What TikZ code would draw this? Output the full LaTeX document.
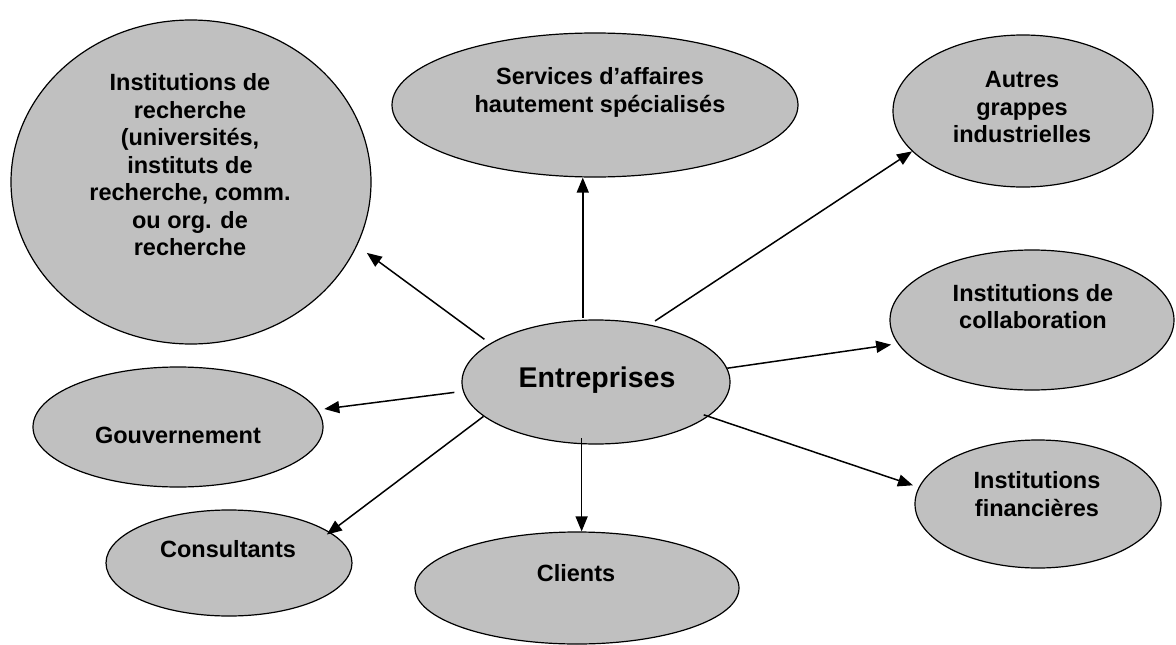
\documentclass[tikz,border=0pt]{standalone}
\usepackage{fontspec}
\setmainfont{Liberation Sans}
\usetikzlibrary{shapes.geometric,arrows.meta}
\definecolor{bubble}{RGB}{192,192,192}
\begin{document}
\begin{tikzpicture}[x=1pt,y=-1pt,
  bub/.style={ellipse, draw=black, line width=1.2pt, fill=bubble, inner sep=0pt},
  lbl/.style={align=center, font=\fontsize{23.5}{27.5}\selectfont\bfseries, inner sep=0pt},
  conn/.style={line width=1.5pt, -{Triangle[length=15pt,width=12pt]}}]
\useasboundingbox[fill=white] (0,0) rectangle (1176,645);
% bubbles
\node[bub, minimum width=360pt, minimum height=324pt] (res) at (191,182) {};
\node[bub, minimum width=406pt, minimum height=144pt] (svc) at (595,105) {};
\node[bub, minimum width=260pt, minimum height=152pt] (aut) at (1023,111) {};
\node[bub, minimum width=284pt, minimum height=140pt] (col) at (1032,320) {};
\node[bub, minimum width=268pt, minimum height=124pt] (ent) at (596,382) {};
\node[bub, minimum width=290pt, minimum height=120pt] (gov) at (178,427) {};
\node[bub, minimum width=246pt, minimum height=128pt] (fin) at (1038,504) {};
\node[bub, minimum width=246pt, minimum height=106pt] (con) at (229,563) {};
\node[bub, minimum width=324pt, minimum height=112pt] (cli) at (577,588) {};
% labels
\node[lbl] (resT) at (190,165) {Institutions de\\recherche\\(universités,\\instituts de\\recherche, comm.\\ou org. de\\recherche};
\node[lbl] (svcT) at (600,92.5) {Services d’affaires\\hautement spécialisés};
\node[lbl] (autT) at (1022,107.5) {Autres\\grappes\\industrielles};
\node[lbl] (colT) at (1033,306.5) {Institutions de\\collaboration};
\node[lbl, font=\fontsize{28.5}{33}\selectfont\bfseries] (entT) at (597,380) {Entreprises};
\node[lbl] (govT) at (178,435) {Gouvernement};
\node[lbl] (finT) at (1037,494) {Institutions\\financières};
\node[lbl] (conT) at (228,549) {Consultants};
\node[lbl] (cliT) at (576,573) {Clients};
% connectors
\draw[conn, shorten <=7pt, shorten >=12pt] (ent.160.5) -- (res.-21);
\draw[conn, shorten <=2pt] (ent.102.3) -- (ent.102.3 |- svc.south);
\draw[conn, shorten <=6.6pt] (ent.47.4) -- (aut.200.9);
\draw[conn, shorten >=6.6pt] (ent.6.5) -- (col.190.1);
\draw[conn, shorten <=-5pt, shorten >=6pt] (ent.-17.3) -- (fin.172.3);
\draw[conn, shorten <=-6pt] (ent.257) -- (ent.257 |- cli.north);
\draw[conn, shorten >=-4pt] (ent.197.3) -- (con.17.9);
\draw[conn, shorten <=8.6pt, shorten >=6.7pt] (ent.184.1) -- (gov.7.9);
\end{tikzpicture}
\end{document}
